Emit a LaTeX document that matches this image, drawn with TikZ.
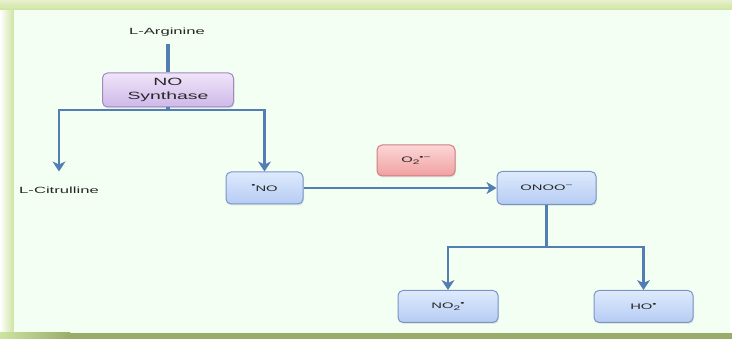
\documentclass[tikz,border=0pt]{standalone}
\usepackage{fontspec}
\newfontfamily\wf[FakeStretch=1.85]{Liberation Sans}
\usetikzlibrary{arrows.meta,shadows}
\newcommand{\upsc}[1]{\raisebox{0.75ex}{\fontsize{6.5}{7}\selectfont #1}}
\newcommand{\dnsc}[1]{\raisebox{-0.35ex}{\fontsize{6.5}{7}\selectfont #1}}
\definecolor{inner}{RGB}{244,255,244}
\definecolor{bandlight}{RGB}{205,228,160}
\definecolor{bandtop}{RGB}{232,240,206}
\definecolor{banddark}{RGB}{152,173,106}
\definecolor{linec}{RGB}{82,126,180}
\definecolor{bluetop}{RGB}{222,234,253}
\definecolor{bluebot}{RGB}{182,204,244}
\definecolor{bluebd}{RGB}{120,150,196}
\definecolor{purtop}{RGB}{240,228,250}
\definecolor{purbot}{RGB}{206,184,232}
\definecolor{purbd}{RGB}{160,138,188}
\definecolor{redtop}{RGB}{252,214,214}
\definecolor{redbot}{RGB}{240,160,160}
\definecolor{redbd}{RGB}{206,128,128}
\definecolor{txt}{RGB}{40,40,40}
\tikzset{
  box/.style={draw, line width=1pt, rounded corners=5pt, inner sep=0pt, align=center,
    text=txt, font=\wf\fontsize{8}{9}\selectfont,
    drop shadow={opacity=0.18, shadow xshift=1pt, shadow yshift=-1.5pt}},
  bluebox/.style={box, draw=bluebd, top color=bluetop, bottom color=bluebot},
  purbox/.style={box, draw=purbd, top color=purtop, bottom color=purbot},
  redbox/.style={box, draw=redbd, top color=redtop, bottom color=redbot},
  lbl/.style={text=txt, font=\wf\fontsize{9}{11}\selectfont, inner sep=2pt},
  trunk/.style={draw=linec, line width=3.6pt},
  branch/.style={draw=linec, line width=2.6pt, line join=miter,
    -{Stealth[length=10pt, width=13pt, inset=3pt]}},
  thinarr/.style={draw=linec, line width=1.8pt,
    -{Stealth[length=10pt, width=12pt, inset=3pt]}}
}
\begin{document}
\begin{tikzpicture}[x=1pt,y=-1pt]
\useasboundingbox (0,0) rectangle (732,339);
% frame
\fill[left color=white, right color=bandlight] (0,0) rectangle (14,339);
\fill[top color=bandtop, bottom color=bandlight] (0,0) rectangle (732,10);
\fill[inner] (14,10) rectangle (730,333);
\fill[left color=bandlight, right color=banddark] (0,333) rectangle (70,339);
\fill[banddark] (70,333) rectangle (732,339);

% nodes
\node[lbl] (arg) at (167,32) {L-Arginine};
\node[purbox, minimum width=131pt, minimum height=34pt,
  font=\wf\fontsize{10.5}{14}\selectfont] (nos) at (168,90) {NO\\Synthase};
\node[lbl] (cit) at (59,190) {L-Citrulline};
\node[bluebox, minimum width=77pt, minimum height=32pt] (no) at (264.5,188)
  {\upsc{\textbullet}NO};
\node[redbox, minimum width=78pt, minimum height=31pt] (o2) at (416,160.5)
  {O\dnsc{2}\upsc{\textbullet−}};
\node[bluebox, minimum width=99pt, minimum height=33pt] (onoo) at (546.5,188)
  {ONOO\upsc{−}};
\node[bluebox, minimum width=100pt, minimum height=32pt] (no2) at (448,306.5)
  {NO\dnsc{2}\upsc{\textbullet}};
\node[bluebox, minimum width=99pt, minimum height=32pt] (ho) at (643.5,306.5)
  {HO\upsc{\textbullet}};

\coordinate (j1) at (168,110);
\coordinate (j2) at (546.5,247);

% connectors
\draw[trunk] ([yshift=-6pt]arg.south -| nos.north) -- (nos.north);
\draw[trunk] (nos.south) -- (j1);
\draw[branch, shorten >=13pt] (j1) -| (cit.north);
\draw[branch] (j1) -| (no.north);
\draw[thinarr] (no.east) -- (onoo.west);
\draw[trunk] (onoo.south) -- (j2);
\draw[branch] (j2) -| (no2.north);
\draw[branch] (j2) -| (ho.north);
\end{tikzpicture}
\end{document}
